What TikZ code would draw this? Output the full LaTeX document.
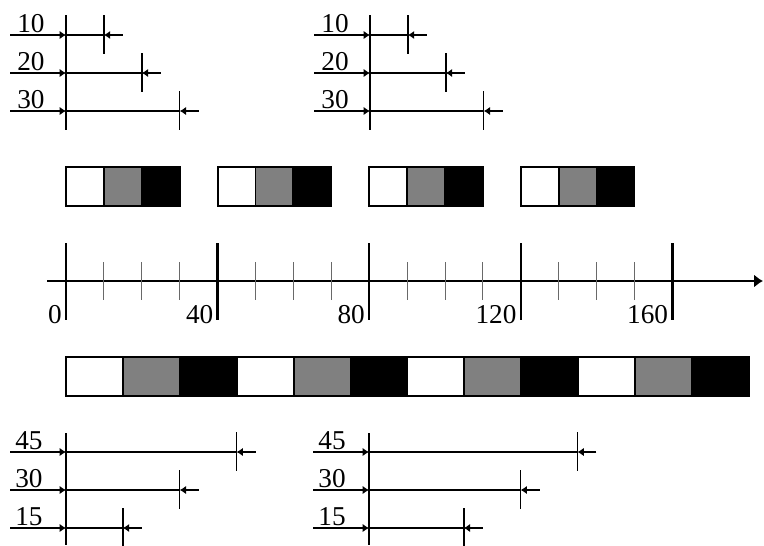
\documentclass[tikz,border=0pt]{standalone}
\usepackage{fontspec}
\setmainfont{Liberation Serif}
\usetikzlibrary{arrows.meta, calc}
\definecolor{mygray}{RGB}{128,128,128}
\definecolor{myminor}{RGB}{105,105,105}
\tikzset{
  cell/.style={draw=black, line width=1.1pt},
  axisline/.style={-{Latex[length=5pt,width=7.4pt]}, line width=1.1pt},
  major/.style={line width=1.4pt},
  minor/.style={line width=0.5pt, color=myminor},
  dimline/.style={line width=0.9pt},
  dimarrow/.style={-{Latex[length=3.6pt,width=4.8pt]}, line width=0.9pt},
  numlabel/.style={font=\fontsize{15.5}{18}\selectfont, inner sep=0pt}
}
\begin{document}
\begin{tikzpicture}[x=0.02cm, y=-0.02cm]
  \useasboundingbox (0,0) rectangle (764,545);

  % Time axis
  \coordinate (axstart) at (47,281);
  \coordinate (axend) at (763,281);
  \draw[axisline] (axstart) -- (axend);
  \foreach \t in {1,2,3,5,6,7,9,10,11,13,14,15}
    \draw[minor] ({66+37.9*\t},262) -- ({66+37.9*\t},300);
  \foreach \k/\lab in {0/0,1/40,2/80,3/120,4/160} {
    \draw[major] ({66+151.6*\k},243) -- ({66+151.6*\k},320);
    \node[numlabel, anchor=base east] (lab\k) at ({66+151.6*\k-4},323) {\lab};
  }

  % Short frames above the axis
  \foreach \k in {0,...,3}
    \foreach \j/\col in {0/white,1/mygray,2/black}
      \draw[cell, fill=\col] ({66+151.6*\k+37.9*\j},167) rectangle +(37.9,39);

  % Long frames below the axis
  \foreach \k in {0,...,3}
    \foreach \j/\col in {0/white,1/mygray,2/black}
      \draw[cell, fill=\col] ({66+56.9*(3*\k+\j)},357) rectangle +(56.9,39);

  % Top dimension groups
  \foreach \gx/\lx/\g in {66/10/ta,370/314/tb} {
    \coordinate (\g-top) at (\gx,15);
    \coordinate (\g-bot) at (\gx,130);
    \draw[dimline] (\g-top) -- (\g-bot);
    \foreach \r/\v in {0/10,1/20,2/30} {
      \coordinate (\g-s\r) at (\lx,{35+38*\r});
      \coordinate (\g-o\r) at (\gx,{35+38*\r});
      \coordinate (\g-e\r) at ({\gx+3.79*\v},{35+38*\r});
      \coordinate (\g-f\r) at ({\gx+3.79*\v+19},{35+38*\r});
      \draw[dimarrow] (\g-s\r) -- (\g-o\r);
      \draw[dimline] (\g-o\r) -- (\g-e\r);
      \draw[dimarrow] (\g-f\r) -- (\g-e\r);
      \draw[dimline] ($(\g-e\r)+(0,-20)$) -- ($(\g-e\r)+(0,19)$);
      \node[numlabel, anchor=base] (\g-l\r) at ($(\g-o\r)+(-35,-3)$) {\v};
    }
  }

  % Bottom dimension groups
  \foreach \gx/\lx/\g/\off in {66/10/ba/0,369/313/bb/10} {
    \coordinate (\g-top) at (\gx,433);
    \coordinate (\g-bot) at (\gx,545);
    \draw[dimline] (\g-top) -- (\g-bot);
    \foreach \r/\v in {0/45,1/30,2/15} {
      \coordinate (\g-s\r) at (\lx,{452+38*\r});
      \coordinate (\g-o\r) at (\gx,{452+38*\r});
      \coordinate (\g-e\r) at ({\gx+3.79*(\v+\off)},{452+38*\r});
      \coordinate (\g-f\r) at ({\gx+3.79*(\v+\off)+19},{452+38*\r});
      \draw[dimarrow] (\g-s\r) -- (\g-o\r);
      \draw[dimline] (\g-o\r) -- (\g-e\r);
      \draw[dimarrow] (\g-f\r) -- (\g-e\r);
      \draw[dimline] ($(\g-e\r)+(0,-20)$) -- ($(\g-e\r)+(0,19)$);
      \node[numlabel, anchor=base] (\g-l\r) at ($(\g-o\r)+(-37,-3)$) {\v};
    }
  }
\end{tikzpicture}
\end{document}
